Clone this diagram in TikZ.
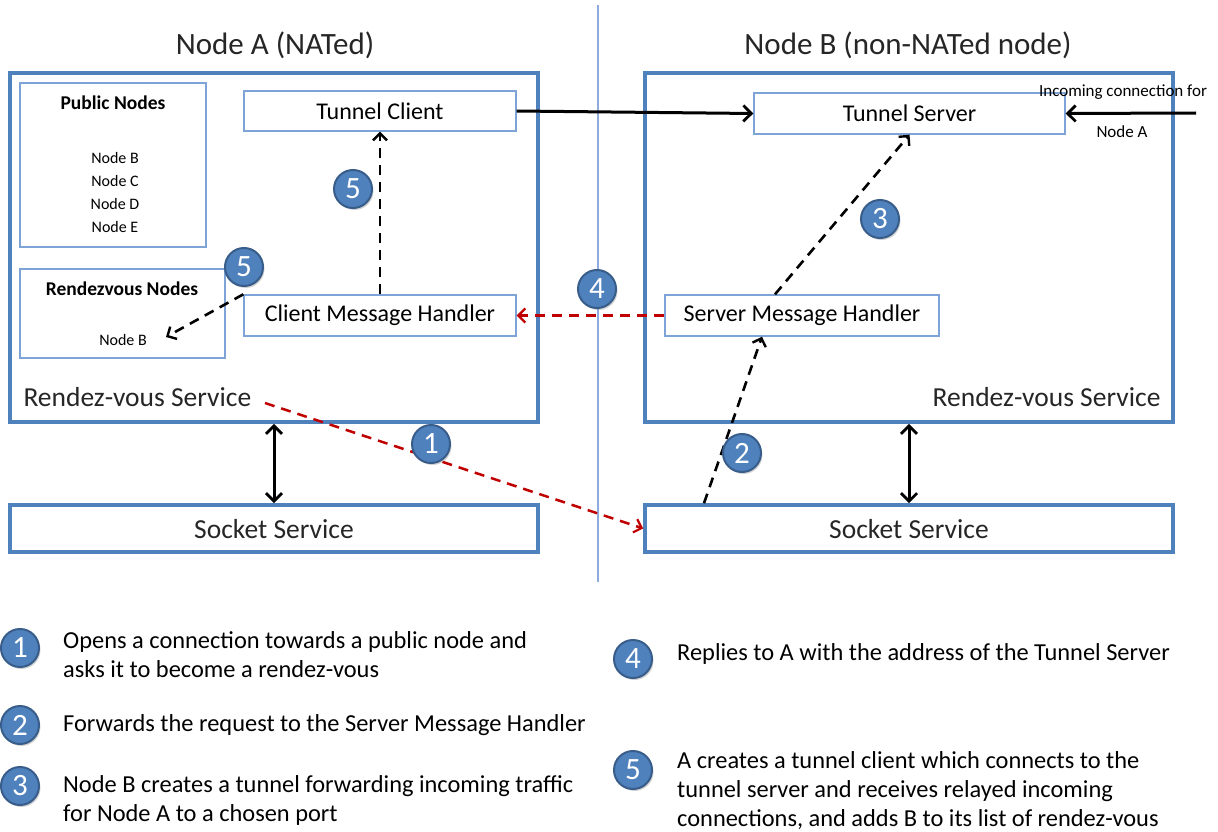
\documentclass[tikz,border=0pt]{standalone}
\usepackage{fontspec}
\setmainfont{Carlito}
\usetikzlibrary{arrows.meta,shadows}
\definecolor{bigblue}{HTML}{4F81BD}
\definecolor{thinblue}{HTML}{7EA3D6}
\definecolor{divblue}{HTML}{8FAADC}
\definecolor{circfill}{HTML}{4F81BD}
\definecolor{circdraw}{HTML}{385D8A}
\definecolor{reddash}{HTML}{C00000}
\begin{document}
\begin{tikzpicture}[x=1pt,y=-1pt,
  bigbox/.style={draw=bigblue,line width=3.6pt,inner sep=0pt},
  inbox/.style={draw=thinblue,line width=1.4pt,fill=white,inner sep=0pt,font=\fontsize{24}{24}\selectfont},
  num/.style={circle,fill=circfill,draw=circdraw,line width=2pt,minimum size=38pt,inner sep=0pt,text=white,
    font=\fontsize{31}{31}\selectfont,drop shadow={opacity=0.35,shadow xshift=1.5pt,shadow yshift=-2pt}},
  title/.style={font=\fontsize{31}{31}\selectfont,text=black!85},
  service/.style={font=\fontsize{27.5}{27.5}\selectfont,text=black!85},
  small/.style={font=\fontsize{16}{16}\selectfont},
  legend/.style={anchor=west,align=left,inner sep=0pt,font=\fontsize{24.4}{29}\selectfont},
  solidarrow/.style={line width=3pt,-{Straight Barb[length=8pt,width=16pt,line width=2.8pt]}},
  dblarrow/.style={line width=3pt,{Straight Barb[length=8pt,width=16pt,line width=2.8pt]}-{Straight Barb[length=8pt,width=16pt,line width=2.8pt]}},
  blkdash/.style={line width=2.6pt,dash pattern=on 10pt off 7pt,-{Straight Barb[length=7pt,width=14pt,line width=2.4pt]}},
  reddash/.style={draw=reddash,line width=2.5pt,dash pattern=on 10pt off 7pt,-{Straight Barb[length=7pt,width=14pt,line width=2.2pt]}}
]
\useasboundingbox[fill=white] (0,0) rectangle (1218,832);

% divider
\draw[divblue,line width=1.2pt] (598,5) -- (598,582);

% titles
\node[title] (tA) at (275,45) {Node A (NATed)};
\node[title] (tB) at (908,45) {Node B (non-NATed node)};

% big boxes
\node[bigbox,minimum width=528pt,minimum height=349pt] (A) at (274,247.5) {};
\node[bigbox,minimum width=528pt,minimum height=349pt] (B) at (909,247.5) {};
\node[bigbox,minimum width=528pt,minimum height=47pt] (sockA) at (274,528.5) {};
\node[bigbox,minimum width=528pt,minimum height=47pt] (sockB) at (909,528.5) {};
\node[service] (sockAt) at (274,529) {Socket Service};
\node[service] (sockBt) at (909,529) {Socket Service};

% inner boxes node A
\node[inbox,minimum width=186pt,minimum height=164pt] (pub) at (113,165) {};
\node[font=\bfseries\fontsize{19.5}{19.5}\selectfont] (pubt) at (113,103) {Public Nodes};
\node[align=center,font=\fontsize{16}{23}\selectfont] (publist) at (115,192.5) {Node B\\Node C\\Node D\\Node E};

\node[inbox,minimum width=205pt,minimum height=89pt] (rv) at (122.5,313.5) {};
\node[font=\bfseries\fontsize{19.5}{19.5}\selectfont] (rvt) at (122,289) {Rendezvous Nodes};
\node[small] (rvb) at (123,340) {Node B};
\coordinate (rvtarget) at (166,337);

\node[inbox,minimum width=272pt,minimum height=40pt] (tc) at (380,111) {Tunnel Client};
\node[inbox,minimum width=272pt,minimum height=41pt] (cmh) at (380,315.5) {Client Message Handler};

\node[service,anchor=west] (rvsA) at (20,397) {Rendez-vous Service};

% inner boxes node B
\node[inbox,minimum width=311pt,minimum height=41pt] (ts) at (909.5,113.5) {Tunnel Server};
\node[inbox,minimum width=274pt,minimum height=41pt] (smh) at (802,315.5) {Server Message Handler};
\node[service,anchor=east] (rvsB) at (1164,397) {Rendez-vous Service};

% incoming connection
\node[font=\fontsize{17}{17}\selectfont] (inct) at (1123,92) {Incoming connection for};
\node[font=\fontsize{17}{17}\selectfont] (incn) at (1122,132) {Node A};
\coordinate (incs) at (1196,113);

% connectors
\draw[solidarrow] (tc.east) -- (ts.west);
\draw[solidarrow] (incs) -- (ts.east);
\draw[dblarrow] (A.south) -- (sockA.north);
\draw[dblarrow] (B.south) -- (sockB.north);
\draw[blkdash] (cmh.north) -- (tc.south);
\draw[blkdash] (cmh.north west) -- (rvtarget);
\draw[reddash] (smh.west) -- (cmh.east);
\draw[blkdash] ([xshift=-27pt]smh.north) -- (ts.south);
\draw[blkdash] ([xshift=-205pt]sockB.north) -- ([xshift=-40pt]smh.south);
\coordinate (r1s) at (265,403);
\draw[reddash] (r1s) -- (sockB.west);

% numbered circles
\node[num] (c5a) at (353,189) {5};
\node[num] (c5b) at (244,267) {5};
\node[num] (c4) at (597,289) {4};
\node[num] (c3) at (880,219) {3};
\node[num] (c2) at (742,453) {2};
\node[num] (c1) at (431,444) {1};

% legend
\node[num] (l1) at (20,648) {1};
\node[legend] (l1t) at (63,655) {Opens a connection towards a public node and\\asks it to become a rendez-vous};
\node[num] (l2) at (20,725) {2};
\node[legend] (l2t) at (63,725) {Forwards the request to the Server Message Handler};
\node[num] (l3) at (20,786) {3};
\node[legend] (l3t) at (63,800) {Node B creates a tunnel forwarding incoming traffic\\for Node A to a chosen port};
\node[num] (l4) at (633,659) {4};
\node[legend] (l4t) at (677,654) {Replies to A with the address of the Tunnel Server};
\node[num] (l5) at (633,770) {5};
\node[legend] (l5t) at (677,791) {A creates a tunnel client which connects to the\\tunnel server and receives relayed incoming\\connections, and adds B to its list of rendez-vous};
\end{tikzpicture}
\end{document}
